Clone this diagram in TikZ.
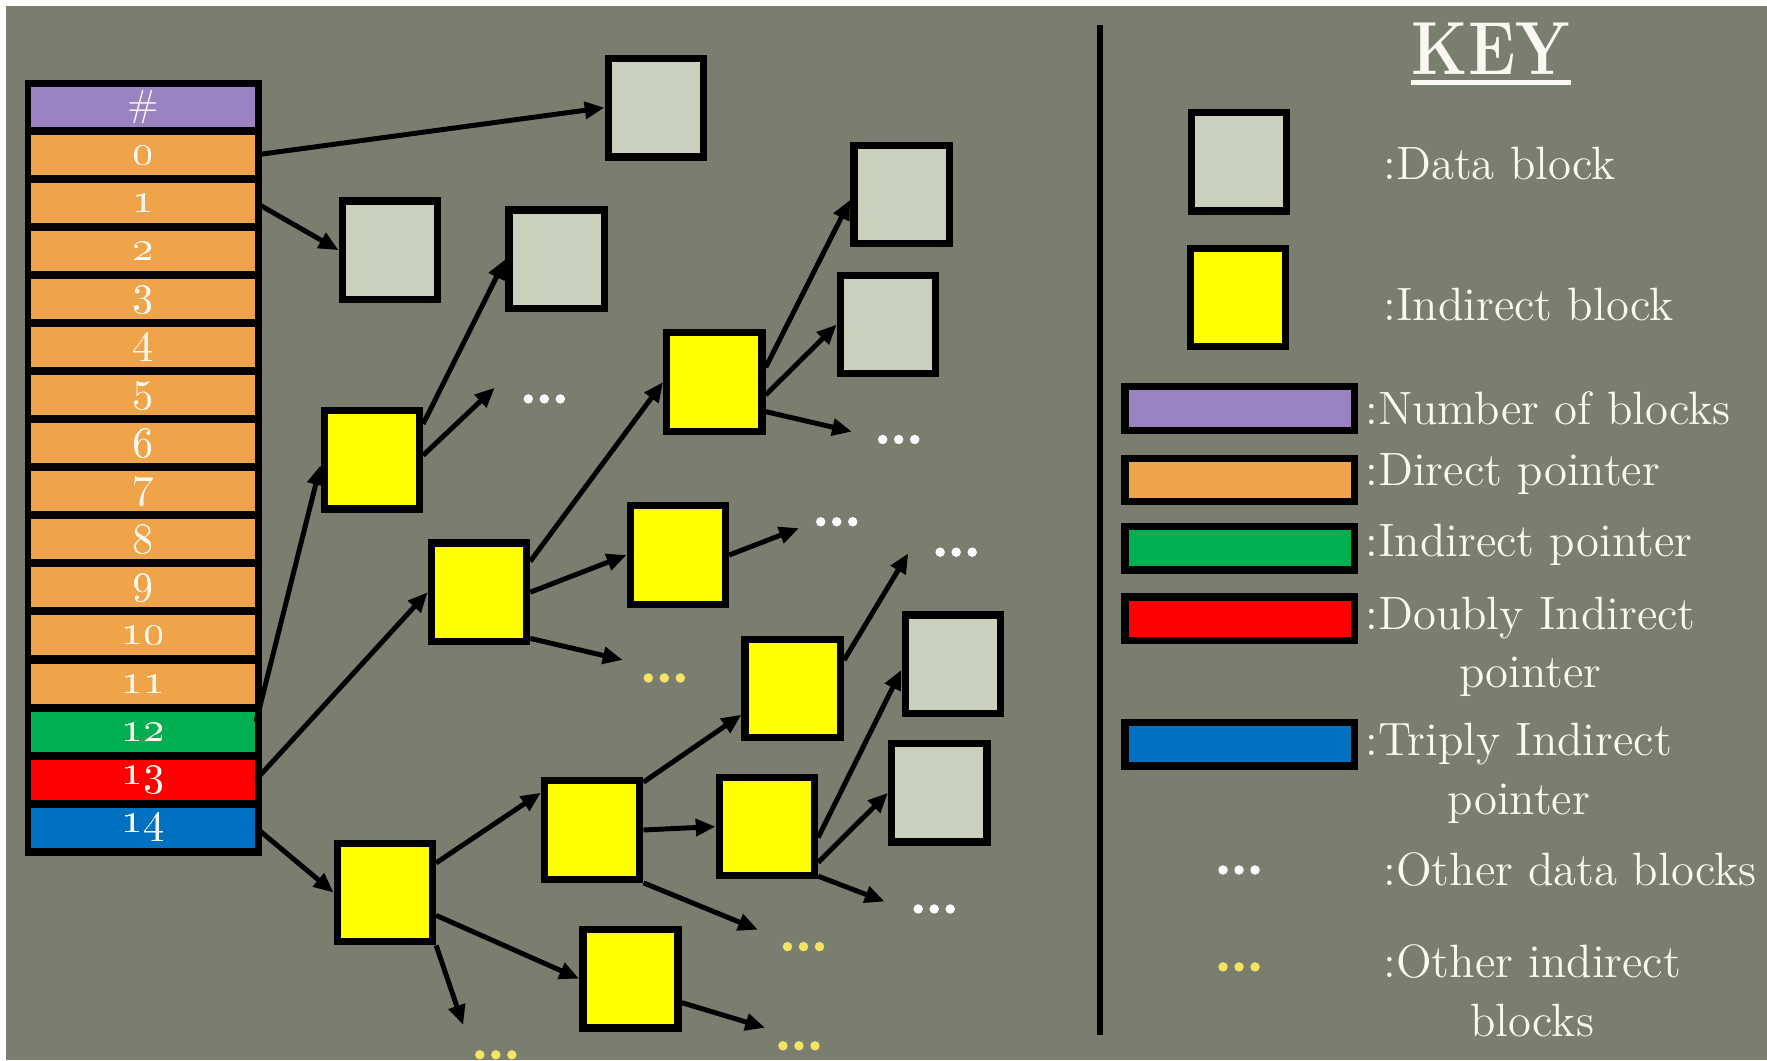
\documentclass[tikz,border=0pt]{standalone}
\usepackage{tikz}
\usetikzlibrary{arrows.meta}
\usepackage[dvipsnames]{xcolor}

\definecolor{slate}{RGB}{122,126,110}
\definecolor{datagray}{RGB}{201,209,188}
\definecolor{ptryellow}{RGB}{255,255,0}
\definecolor{numpurple}{RGB}{155,130,193}
\definecolor{dirorange}{RGB}{240,164,74}
\definecolor{indgreen}{RGB}{0,176,80}
\definecolor{dblred}{RGB}{255,0,0}
\definecolor{triblue}{RGB}{0,112,192}
\definecolor{paleyellow}{RGB}{245,228,100}
\definecolor{chalk}{RGB}{250,248,240}

\tikzset{
  blk/.style={draw=black, line width=1.85pt, minimum width=0.845cm, minimum height=0.873cm, inner sep=0pt},
  datablk/.style={blk, fill=datagray},
  indblk/.style={blk, fill=ptryellow},
  ptrrow/.style={minimum width=1.985cm, minimum height=0.355cm, inner sep=0pt, text=chalk, font=\fontsize{11}{11}\selectfont},
  keybar/.style={draw=black, line width=1.85pt, minimum width=2.035cm, minimum height=0.385cm, inner sep=0pt},
  keytext/.style={anchor=west, align=center, text=chalk, font=\fontsize{11.8}{14.8}\selectfont, inner sep=0pt},
  dotrow/.style={fill=slate, minimum width=0.42cm, minimum height=0.1cm, inner sep=0pt,
    path picture={\foreach \k in {-1,0,1} \fill[#1] ([xshift=\k*0.142cm]path picture bounding box.center) circle[radius=0.042cm];}},
  ptr/.style={line width=1.25pt, -{Triangle[length=5pt,width=4.2pt]}},
}

\begin{document}
\begin{tikzpicture}[x=0.01cm, y=-0.01cm]
\useasboundingbox (0,0) rectangle (1568,941);
\fill[white] (0,0) rectangle (1568,941);
\fill[slate] (5,5) rectangle (1568,941);

% inode pointer table
\node[fill=black, minimum width=2.1cm, minimum height=6.88cm, inner sep=0pt] (tbl) at (127,415) {};
\node[ptrrow, fill=numpurple, font=\fontsize{9.5}{9.5}\selectfont] (rh) at (127.25,94.75) {\#};
\foreach \i in {0,...,11}
  \node[ptrrow, fill=dirorange] (r\i) at (127.25,{94.75+(\i+1)*42.65}) {\oldstylenums{\i}};
\node[ptrrow, fill=indgreen] (r12) at (127.25,649.2) {\oldstylenums{12}};
\node[ptrrow, fill=dblred] (r13) at (127.25,691.85) {\oldstylenums{13}};
\node[ptrrow, fill=triblue] (r14) at (127.25,734.5) {\oldstylenums{14}};

% blocks
\node[datablk] (d0) at (582,95.5) {};
\node[datablk] (d1) at (346,222) {};
\node[datablk] (d2) at (494,230) {};
\node[datablk] (d3) at (800,172.5) {};
\node[datablk] (d4) at (788,288) {};
\node[datablk] (d5) at (845.5,589.5) {};
\node[datablk] (d6) at (833.5,703.5) {};
\node[indblk] (y1) at (330,408) {};
\node[indblk] (y2) at (425,525.5) {};
\node[indblk] (y3) at (634,339) {};
\node[indblk] (y4) at (601.5,492.5) {};
\node[indblk] (y5) at (703.5,611) {};
\node[indblk] (y6) at (341.5,792) {};
\node[indblk] (y7) at (525.5,736.5) {};
\node[indblk] (y8) at (559.5,868.5) {};
\node[indblk] (y9) at (680.5,733.5) {};

% other blocks
\node[dotrow=white] (wd1) at (483,354) {};
\node[dotrow=white] (wd2) at (797.5,390) {};
\node[dotrow=white] (wd3) at (742.5,463) {};
\node[dotrow=white] (wd4) at (848.5,490) {};
\node[dotrow=white] (wd5) at (829,806.6) {};
\node[dotrow=paleyellow] (yd1) at (589.5,601.6) {};
\node[dotrow=paleyellow] (yd2) at (440,936) {};
\node[dotrow=paleyellow] (yd3) at (713,840) {};
\node[dotrow=paleyellow] (yd4) at (709,928) {};
\coordinate (t1) at (439,344);
\coordinate (t2) at (756,383);
\coordinate (t3) at (709,468.6);
\coordinate (t4) at (806,491);
\coordinate (t5) at (785,800);
\coordinate (t6) at (552.5,585.6);
\coordinate (t7) at (411,909.5);
\coordinate (t8) at (672.6,825);
\coordinate (t9) at (679,912);

% direct
\draw[ptr] (r0.east) -- (d0.west);
\draw[ptr] (r1.east) -- (d1.west);
\draw[ptr] (r12.5) -- (y1.186);
\draw[ptr] (r13.east) -- (y2.west);
\draw[ptr] (r14.east) -- (y6.west);
% single indirect
\draw[ptr] (y1.35) -- (d2.west);
\draw[ptr] (y1.5) -- (t1);
% double indirect
\draw[ptr] (y2.31) -- (y3.west);
\draw[ptr] (y2.east) -- (y4.west);
\draw[ptr] (y2.318) -- (t6);
\draw[ptr] (y3.16) -- (d3.186);
\draw[ptr] (y3.346) -- (d4.west);
\draw[ptr] (y3.330) -- (t2);
\draw[ptr] (y4.east) -- (t3);
% triple indirect
\draw[ptr] (y6.30) -- (y7.144);
\draw[ptr] (y6.336) -- (y8.west);
\draw[ptr] (y6.south east) -- (t7);
\draw[ptr] (y7.43) -- (y5.207);
\draw[ptr] (y7.east) -- (y9.west);
\draw[ptr] (y7.south east) -- (t8);
\draw[ptr] (y8.335) -- (t9);
\draw[ptr] (y5.29) -- (t4);
\draw[ptr] (y9.348) -- (d5.186);
\draw[ptr] (y9.325) -- (d6.west);
\draw[ptr] (y9.316) -- (t5);

% key
\draw[line width=1.7pt] (976,22) -- (976,918);
\node[font=\fontsize{19}{19}\selectfont\bfseries, text=chalk, inner sep=0pt, anchor=base] (key) at (1323,66) {\scalebox{0.85}[1]{KEY}};
\draw[chalk, line width=1.2pt] ([yshift=-2pt]key.base west) -- ([yshift=-2pt]key.base east);
\node[datablk] (kd) at (1099.5,143.5) {};
\node[indblk] (ki) at (1098.5,264) {};
\node[keybar, fill=numpurple] (kb1) at (1100,362.5) {};
\node[keybar, fill=dirorange] (kb2) at (1100,426) {};
\node[keybar, fill=indgreen] (kb3) at (1100,486.5) {};
\node[keybar, fill=dblred] (kb4) at (1100,549) {};
\node[keybar, fill=triblue] (kb5) at (1100,660.5) {};
\node[dotrow=white] (wd0) at (1099.5,772) {};
\node[dotrow=paleyellow] (yd0) at (1099.5,858) {};
\node[keytext] (kt1) at (1227,145) {:Data block};
\node[keytext] (kt2) at (1227,270) {:Indirect block};
\node[keytext] (kt3) at (1211,362) {:Number of blocks};
\node[keytext] (kt4) at (1211,421) {:Direct pointer};
\node[keytext] (kt5) at (1211,483) {:Indirect pointer};
\node[keytext] (kt6) at (1211,574) {:Doubly Indirect\\pointer};
\node[keytext] (kt7) at (1211,686) {:Triply Indirect\\pointer};
\node[keytext] (kt8) at (1227,772) {:Other data blocks};
\node[keytext] (kt9) at (1227,879) {:Other indirect\\blocks};
\end{tikzpicture}
\end{document}
